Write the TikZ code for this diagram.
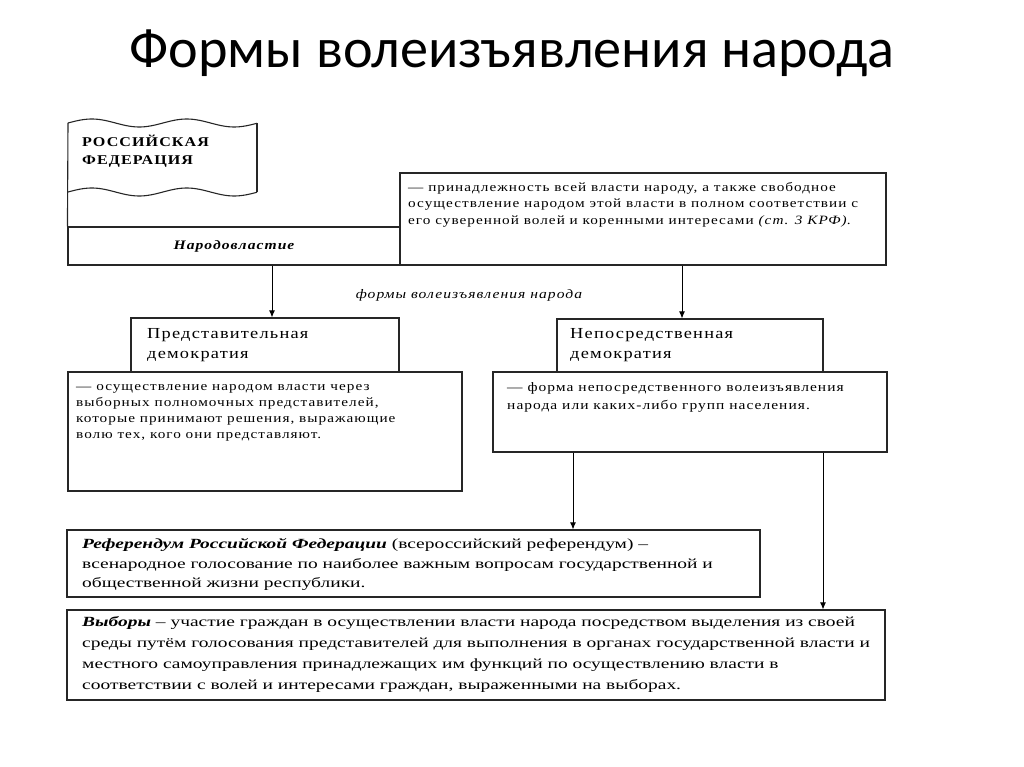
\documentclass[tikz,border=0pt]{standalone}
\usepackage{fontspec}
\setmainfont{Liberation Serif}
\newfontfamily\titlefont{Carlito}
\newfontfamily\descfont[FakeStretch=1.2,LetterSpace=8]{Liberation Serif}
\newfontfamily\lowfont[FakeStretch=1.39]{Liberation Serif}
\usetikzlibrary{arrows.meta,shadows}
\newcommand{\descsize}{\descfont\fontsize{12.7}{16.5}\selectfont}

\begin{document}
\begin{tikzpicture}[
x=1pt,y=-1pt,
MyBoxes/.style={draw=black!85,line width=1.1pt,fill=white,inner sep=0pt,
  drop shadow={shadow xshift=1pt,shadow yshift=-1pt,fill=black!60,opacity=1}},
MyTexts/.style={anchor=north west,inner sep=0pt,align=left},
Segments/.style={draw=black!85,line width=1.1pt},
MyArrows/.style={-{Latex[length=7pt, width=6pt]},line width=1pt}
]
\useasboundingbox (0,0) rectangle (1024,767);

\node[anchor=base] (title) at (512,68) {\titlefont\fontsize{56.2}{60}\selectfont Формы волеизъявления народа};

% columns of the arrows
\coordinate (colA) at (272,0);
\coordinate (colB) at (682,0);
\coordinate (colC) at (573,0);
\coordinate (colD) at (823,0);

% top block
\node[MyBoxes,minimum width=486,minimum height=92] (power) at (643,219) {};
\node[MyBoxes,minimum width=332,minimum height=38,
  font={\descfont\bfseries\itshape\fontsize{13}{14}\selectfont}] (narod) at (234,246) {\raisebox{2pt}{Народовластие}};

% the flag
\draw[Segments] plot[domain=68:257,samples=60] (\x,{123-4*sin((\x-68)*3.79)});
\draw[Segments] plot[domain=68:257,samples=60] (\x,{192-4*sin((\x-68)*3.79)});
\draw[Segments] (68,123) -- (narod.north west);
\draw[Segments] (257,123) -- (257,192);
\node[MyTexts,font={\descfont\bfseries\fontsize{13.4}{18}\selectfont}] (rf) at (82,134) {\strut РОССИЙСКАЯ\\ФЕДЕРАЦИЯ};

\node[MyTexts,font=\descsize] (powertext) at (408,179.5)
{\strut — принадлежность всей власти народу, а также свободное\\
осуществление народом этой власти в полном соответствии с\\
его суверенной волей и коренными интересами \textit{(ст. 3 КРФ)}.};

\node[font={\descfont\itshape\fontsize{13}{14}\selectfont}] (forms) at (469,295) {формы волеизъявления народа};

% two forms
\node[MyBoxes,minimum width=268,minimum height=54] (rep) at (265,345) {};
\node[MyBoxes,minimum width=394,minimum height=119] (repdef) at (265,431.5) {};
\node[MyBoxes,minimum width=266,minimum height=53] (dir) at (690,345.5) {};
\node[MyBoxes,minimum width=394,minimum height=80] (dirdef) at (690,412) {};

\node[MyTexts,font={\descfont\fontsize{15.3}{20}\selectfont}] (reptext) at (147,324) {\strut Представительная\\демократия};
\node[MyTexts,font={\descfont\fontsize{15.3}{20}\selectfont}] (dirtext) at (570,324) {\strut Непосредственная\\демократия};

\node[MyTexts,font={\descfont\fontsize{12.7}{16}\selectfont}] (repdeftext) at (76,379)
{\strut — осуществление народом власти через\\
выборных полномочных представителей,\\
которые принимают решения, выражающие\\
волю тех, кого они представляют.};
\node[MyTexts,font={\descfont\fontsize{12.9}{18}\selectfont}] (dirdeftext) at (507,379)
{\strut — форма непосредственного волеизъявления\\
народа или каких-либо групп населения.};

% referendum and elections
\node[MyBoxes,minimum width=693,minimum height=67] (refer) at (413.5,563.5) {};
\node[MyBoxes,minimum width=818,minimum height=90] (elect) at (476,655) {};

\node[MyTexts,font={\lowfont\fontsize{14}{19.5}\selectfont}] (refertext) at (82,535)
{\strut\textbf{\textit{Референдум Российской Федерации}} (всероссийский референдум) –\\
всенародное голосование по наиболее важным вопросам государственной и\\
общественной жизни республики.};
\node[MyTexts,font={\lowfont\fontsize{14}{21}\selectfont}] (electtext) at (82,612)
{\strut\textbf{\textit{Выборы}} – участие граждан в осуществлении власти народа посредством выделения из своей\\
среды путём голосования представителей для выполнения в органах государственной власти и\\
местного самоуправления принадлежащих им функций по осуществлению власти в\\
соответствии с волей и интересами граждан, выраженными на выборах.};

% arrows
\draw[MyArrows] (narod.south -| colA) -- (rep.north -| colA);
\draw[MyArrows] (power.south -| colB) -- (dir.north -| colB);
\draw[MyArrows] (dirdef.south -| colC) -- (refer.north -| colC);
\draw[MyArrows] (dirdef.south -| colD) -- (elect.north -| colD);

\end{tikzpicture}
\end{document}
